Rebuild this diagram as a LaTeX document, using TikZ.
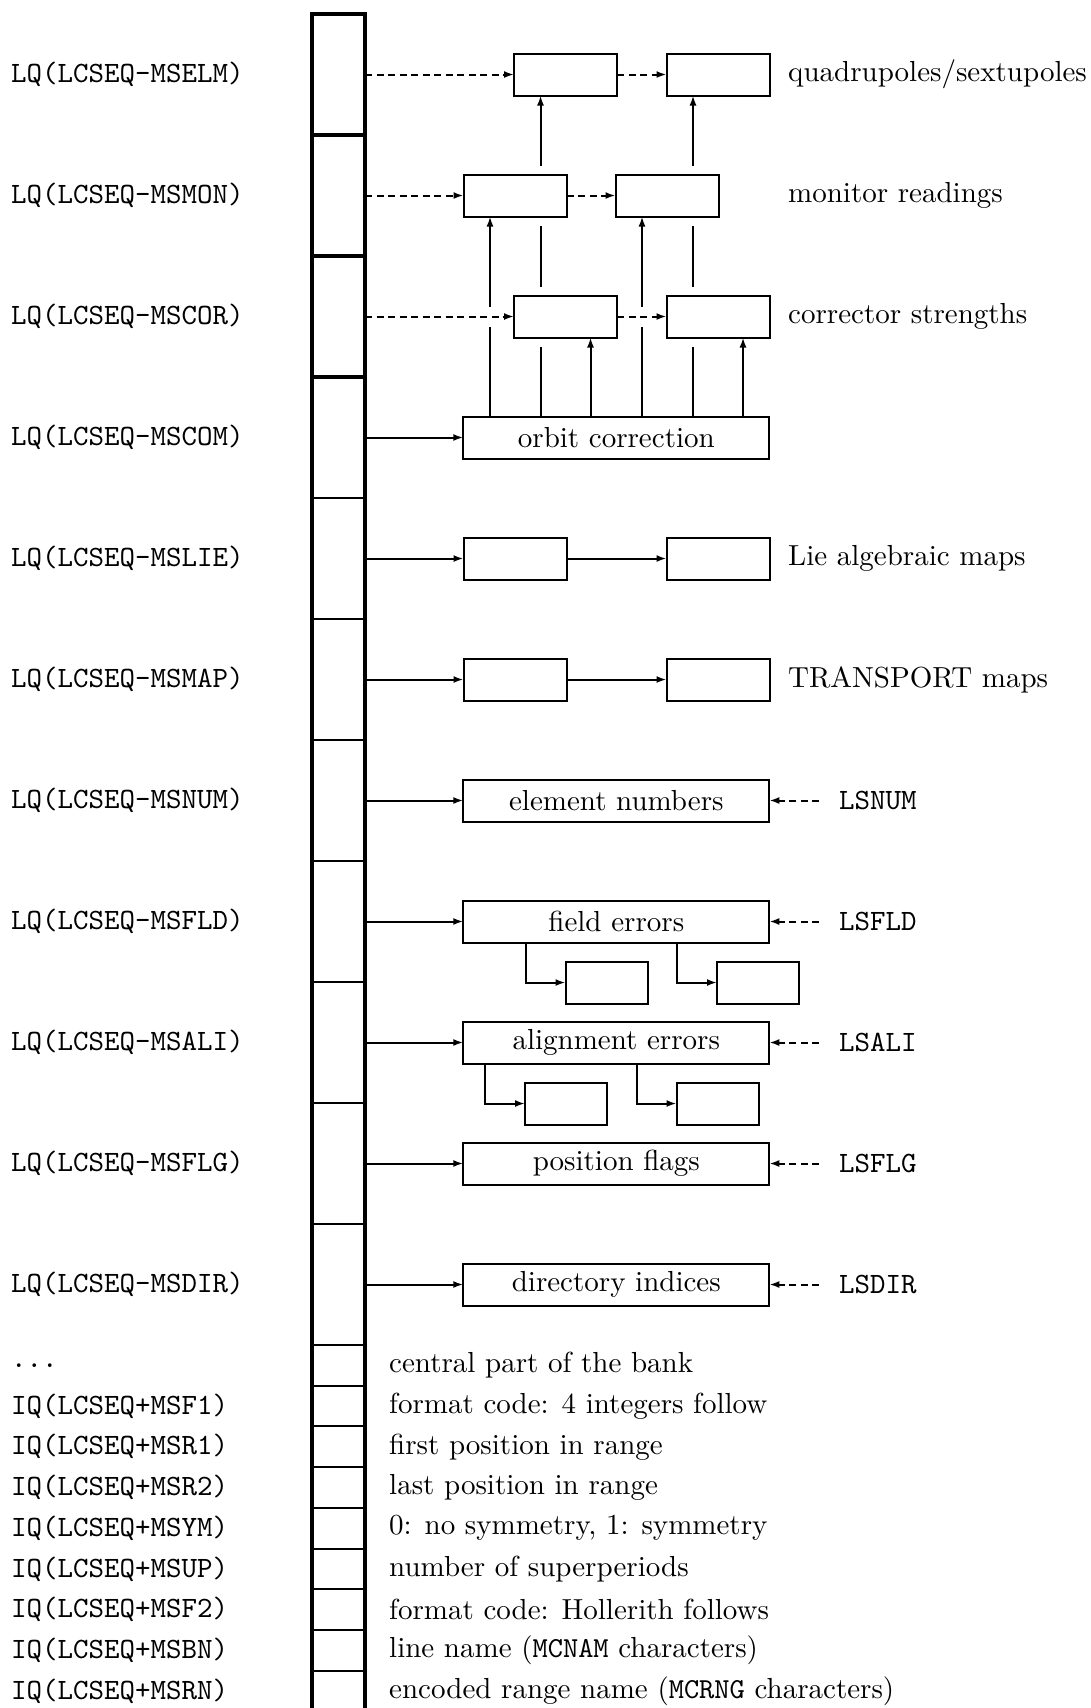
\documentclass[tikz,border=0pt]{standalone}
\usepackage{fontspec}
\setmainfont{lmroman10-regular}[Extension=.otf,Ligatures=TeX]
\setmonofont{lmmono10-regular}[Extension=.otf]
\usepackage{tikz}
\usetikzlibrary{arrows.meta,calc,backgrounds}

\newcommand{\bankfont}{\fontsize{29}{34}\selectfont}
\newcommand{\varfont}{\fontsize{29.5}{34}\selectfont\ttfamily}

\tikzset{
  bankcell/.style={draw,line width=2pt,minimum width=53pt,minimum height=121pt,inner sep=0pt,outer sep=0pt},
  smallcell/.style={bankcell,minimum height=40.7pt},
  bankedge/.style={line width=3.5pt},
  bankbox/.style={draw,line width=2pt,fill=white,minimum width=103pt,minimum height=42pt,inner sep=0pt,outer sep=0pt,font=\bankfont},
  widebox/.style={bankbox,minimum width=306pt},
  subbox/.style={bankbox,minimum width=82pt},
  halo/.style={preaction={draw=white,line width=18pt}},
  knockout/.style={draw=white,line width=20pt,shorten <=6pt,shorten >=6pt},
  link/.style={line width=2pt,-{Latex[length=10pt,width=7pt]}},
  dashlink/.style={link,dash pattern=on 7pt off 4.5pt},
  varname/.style={anchor=west,inner sep=0pt,font=\varfont},
  note/.style={anchor=west,inner sep=0pt,font=\bankfont},
  lsname/.style={anchor=west,inner sep=0pt,inner xsep=20pt,font=\varfont},
}

\begin{document}
\begin{tikzpicture}[x=1pt,y=1pt,yscale=-1]
\useasboundingbox (0,0) rectangle (1091,1708);

%Shape: bank cells
\node[bankcell] (c1) at (338.5,74.5) {};
\node[bankcell] (c2) at (338.5,195.5) {};
\node[bankcell] (c3) at (338.5,316.5) {};
\node[bankcell] (c4) at (338.5,437.5) {};
\node[bankcell] (c5) at (338.5,558.5) {};
\node[bankcell] (c6) at (338.5,679.5) {};
\node[bankcell] (c7) at (338.5,800.5) {};
\node[bankcell] (c8) at (338.5,921.5) {};
\node[bankcell] (c9) at (338.5,1042.5) {};
\node[bankcell] (c10) at (338.5,1163.5) {};
\node[bankcell] (c11) at (338.5,1284.5) {};
\node[smallcell] (s1) at (338.5,1365.35) {};
\node[smallcell] (s2) at (338.5,1406.05) {};
\node[smallcell] (s3) at (338.5,1446.75) {};
\node[smallcell] (s4) at (338.5,1487.45) {};
\node[smallcell] (s5) at (338.5,1528.15) {};
\node[smallcell] (s6) at (338.5,1568.85) {};
\node[smallcell] (s7) at (338.5,1609.55) {};
\node[smallcell] (s8) at (338.5,1650.25) {};
\node[smallcell] (s9) at (338.5,1690.95) {};
%Shape: thick outline of the bank
\draw[bankedge] (s9.south west) -- (c1.north west) -- (c1.north east) -- (s9.south east);
\draw[bankedge] (c1.south west) -- (c1.south east);
\draw[bankedge] (c2.south west) -- (c2.south east);
\draw[bankedge] (c3.south west) -- (c3.south east);

% Text Node
\node[varname] (lqelm) at (11,74.5) {LQ(LCSEQ-MSELM)};
\node[varname] (lqmon) at (11,195.5) {LQ(LCSEQ-MSMON)};
\node[varname] (lqcor) at (11,316.5) {LQ(LCSEQ-MSCOR)};
\node[varname] (lqcom) at (11,437.5) {LQ(LCSEQ-MSCOM)};
\node[varname] (lqlie) at (11,558.5) {LQ(LCSEQ-MSLIE)};
\node[varname] (lqmap) at (11,679.5) {LQ(LCSEQ-MSMAP)};
\node[varname] (lqnum) at (11,800.5) {LQ(LCSEQ-MSNUM)};
\node[varname] (lqfld) at (11,921.5) {LQ(LCSEQ-MSFLD)};
\node[varname] (lqali) at (11,1042.5) {LQ(LCSEQ-MSALI)};
\node[varname] (lqflg) at (11,1163.5) {LQ(LCSEQ-MSFLG)};
\node[varname] (lqdir) at (11,1284.5) {LQ(LCSEQ-MSDIR)};
\node[varname] (iqdots) at (11,1365.35) {{.}{.}{.}};
\node[varname] (iqf1) at (11,1406.05) {IQ(LCSEQ+MSF1)};
\node[varname] (iqr1) at (11,1446.75) {IQ(LCSEQ+MSR1)};
\node[varname] (iqr2) at (11,1487.45) {IQ(LCSEQ+MSR2)};
\node[varname] (iqym) at (11,1528.15) {IQ(LCSEQ+MSYM)};
\node[varname] (iqup) at (11,1568.85) {IQ(LCSEQ+MSUP)};
\node[varname] (iqf2) at (11,1609.55) {IQ(LCSEQ+MSF2)};
\node[varname] (iqbn) at (11,1650.25) {IQ(LCSEQ+MSBN)};
\node[varname] (iqrn) at (11,1690.95) {IQ(LCSEQ+MSRN)};

% Text Node
\node[note] (txcen) at (389,1365.35) {central part of the bank};
\node[note] (txf1) at (389,1406.05) {format code: 4 integers follow};
\node[note] (txr1) at (389,1446.75) {first position in range};
\node[note] (txr2) at (389,1487.45) {last position in range};
\node[note] (txym) at (389,1528.15) {0: no symmetry, 1: symmetry};
\node[note] (txup) at (389,1568.85) {number of superperiods};
\node[note] (txf2) at (389,1609.55) {format code: Hollerith follows};
\node[note] (txbn) at (389,1650.25) {line name (\texttt{MCNAM} characters)};
\node[note] (txrn) at (389,1690.95) {encoded range name (\texttt{MCRNG} characters)};

%Shape: data banks
\node[bankbox] (quad1) at (565.5,74.5) {};
\node[bankbox] (quad2) at (718,74.5) {};
\node[bankbox,halo] (mon1) at (515,195.5) {};
\node[bankbox,halo] (mon2) at (667,195.5) {};
\node[bankbox,halo] (corr1) at (565.5,316.5) {};
\node[bankbox,halo] (corr2) at (718,316.5) {};
\node[widebox] (orbit) at (616.3,437.5) {orbit correction};
\node[bankbox] (lie1) at (515,558.5) {};
\node[bankbox] (lie2) at (718,558.5) {};
\node[bankbox] (map1) at (515,679.5) {};
\node[bankbox] (map2) at (718,679.5) {};
\node[widebox] (num) at (616.3,800.5) {element numbers};
\node[widebox] (fld) at (616.3,921.5) {field errors};
\node[subbox] (fldA) at (606.5,982.5) {};
\node[subbox] (fldB) at (758,982.5) {};
\node[widebox] (ali) at (616.3,1042.5) {alignment errors};
\node[subbox] (aliA) at (566,1103.5) {};
\node[subbox] (aliB) at (717.5,1103.5) {};
\node[widebox] (flg) at (616.3,1163.5) {position flags};
\node[widebox] (dir) at (616.3,1284.5) {directory indices};

% Text Node
\node[note] (quadtxt) at (788,74.5) {quadrupoles/sextupoles};
\node[note] (montxt) at (788,195.5) {monitor readings};
\node[note] (corrtxt) at (788,316.5) {corrector strengths};
\node[note] (lietxt) at (788,558.5) {Lie algebraic maps};
\node[note] (maptxt) at (788,679.5) {TRANSPORT maps};
\node[lsname] (lsnum) at (819,800.5) {LSNUM};
\node[lsname] (lsfld) at (819,921.5) {LSFLD};
\node[lsname] (lsali) at (819,1042.5) {LSALI};
\node[lsname] (lsflg) at (819,1163.5) {LSFLG};
\node[lsname] (lsdir) at (819,1284.5) {LSDIR};

%Straight Lines: orbit correction links passing behind the banks
\begin{scope}[on background layer]
\coordinate (tB) at ($(quad1.south)+(-25,0)$);
\coordinate (tE) at ($(quad2.south)+(-25,0)$);
\draw[link] (orbit.north -| tB) -- (tB);
\draw[link] (orbit.north -| tE) -- (tE);
\end{scope}
%Straight Lines: orbit correction links ending at the banks
\coordinate (tA) at ($(mon1.south)+(-25,0)$);
\coordinate (tC) at ($(corr1.south)+(25,0)$);
\coordinate (tD) at ($(mon2.south)+(-25,0)$);
\coordinate (tF) at ($(corr2.south)+(25,0)$);
\draw[link] (orbit.north -| tA) -- (tA);
\draw[link] (orbit.north -| tC) -- (tC);
\draw[link] (orbit.north -| tD) -- (tD);
\draw[link] (orbit.north -| tF) -- (tF);

%Straight Lines: structural links
\draw[knockout] (c3.east) -- (corr1.west);
\draw[knockout] (corr1.east) -- (corr2.west);
\draw[dashlink] (c1.east) -- (quad1.west);
\draw[dashlink] (quad1.east) -- (quad2.west);
\draw[dashlink] (c2.east) -- (mon1.west);
\draw[dashlink] (mon1.east) -- (mon2.west);
\draw[dashlink] (c3.east) -- (corr1.west);
\draw[dashlink] (corr1.east) -- (corr2.west);
\draw[link] (c4.east) -- (orbit.west);
\draw[link] (c5.east) -- (lie1.west);
\draw[link] (lie1.east) -- (lie2.west);
\draw[link] (c6.east) -- (map1.west);
\draw[link] (map1.east) -- (map2.west);
\draw[link] (c7.east) -- (num.west);
\draw[link] (c8.east) -- (fld.west);
\draw[link] (c9.east) -- (ali.west);
\draw[link] (c10.east) -- (flg.west);
\draw[link] (c11.east) -- (dir.west);

%Straight Lines: sub-banks
\coordinate (fAk) at ($(fldA.west)+(-40,0)$);
\coordinate (fBk) at ($(fldB.west)+(-40,0)$);
\coordinate (aAk) at ($(aliA.west)+(-40,0)$);
\coordinate (aBk) at ($(aliB.west)+(-40,0)$);
\draw[link] (fAk |- fld.south) |- (fldA.west);
\draw[link] (fBk |- fld.south) |- (fldB.west);
\draw[link] (aAk |- ali.south) |- (aliA.west);
\draw[link] (aBk |- ali.south) |- (aliB.west);

%Straight Lines: link variables
\draw[dashlink] (lsnum.west) -- (num.east);
\draw[dashlink] (lsfld.west) -- (fld.east);
\draw[dashlink] (lsali.west) -- (ali.east);
\draw[dashlink] (lsflg.west) -- (flg.east);
\draw[dashlink] (lsdir.west) -- (dir.east);

\end{tikzpicture}
\end{document}
